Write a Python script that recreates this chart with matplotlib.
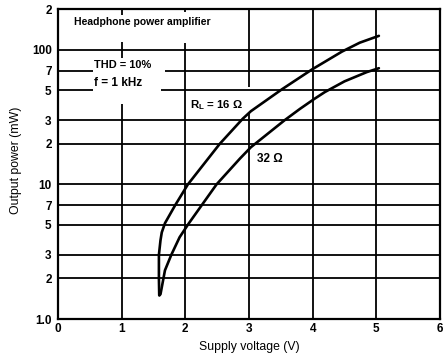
import matplotlib
matplotlib.use("Agg")
import matplotlib.pyplot as plt
from matplotlib.ticker import NullLocator

plt.rcParams["font.family"] = ["Liberation Sans", "DejaVu Sans"]
plt.rcParams["font.weight"] = "bold"
plt.rcParams["mathtext.fontset"] = "custom"
plt.rcParams["mathtext.rm"] = "Liberation Sans:bold"
plt.rcParams["mathtext.bf"] = "Liberation Sans:bold"
plt.rcParams["mathtext.it"] = "Liberation Sans:bold"

# Headphone amplifier output power vs. supply voltage (THD = 10 %, f = 1 kHz)
voltage_16 = [1.59, 1.585, 1.585, 1.61, 1.63, 1.68, 1.84, 2.04, 2.54, 2.90,
              3.03, 3.52, 3.99, 4.46, 4.74, 5.04]
power_16 = [1.5, 2.0, 3.0, 3.85, 4.4, 5.15, 7.0, 10.0, 20.0, 30.7,
            35.0, 51.0, 71.5, 97.0, 113.0, 127.0]

voltage_32 = [1.595, 1.61, 1.68, 1.78, 1.91, 2.05, 2.49, 2.86, 3.03,
              3.56, 3.80, 4.03, 4.19, 4.50, 4.85, 5.04]
power_32 = [1.5, 1.53, 2.3, 3.0, 4.05, 5.1, 10.0, 15.6, 18.9,
            30.0, 36.4, 43.3, 48.5, 58.3, 68.3, 73.0]

x_ticks = [0, 1, 2, 3, 4, 5, 6]
x_tick_labels = ["0", "1", "2", "3", "4", "5", "6"]
y_ticks = [1, 2, 3, 5, 7, 10, 20, 30, 50, 70, 100, 200]
y_tick_labels = ["1.0", "2", "3", "5", "7", "10", "2", "3", "5", "7", "100", "2"]

fig = plt.figure(figsize=(4.46, 3.61), dpi=100)
ax = fig.add_axes([58 / 446, 42 / 361, 382 / 446, 309.7 / 361])
ax.set_yscale("log")
ax.set_xlim(0, 6)
ax.set_ylim(1, 200)

grid_kw = dict(color="black", lw=1.3, zorder=1)

# horizontal grid; 50 and 70 mW lines are broken by the condition labels
for p in [2, 3, 5, 7, 10, 20, 30, 100]:
    ax.axhline(p, **grid_kw)
ax.hlines(70, 0, 0.55, **grid_kw)
ax.hlines(70, 1.68, 6, **grid_kw)
ax.hlines(50, 0, 0.55, **grid_kw)
ax.hlines(50, 1.62, 6, **grid_kw)

# vertical grid, left open around the annotation texts
ax.vlines(1, 1, 39.5, **grid_kw)
ax.vlines(1, 87, 114, **grid_kw)
ax.vlines(1, 181, 200, **grid_kw)
ax.vlines(2, 1, 112, **grid_kw)
ax.vlines(2, 191, 200, **grid_kw)
ax.vlines(3, 1, 34.5, **grid_kw)
ax.vlines(3, 52.9, 200, **grid_kw)
ax.vlines(4, 1, 200, **grid_kw)
ax.vlines(5, 1, 200, **grid_kw)

curve_kw = dict(color="black", lw=1.9, solid_capstyle="round",
                solid_joinstyle="round", zorder=3)
ax.plot(voltage_16, power_16, **curve_kw)
ax.plot(voltage_32, power_32, **curve_kw)

for s in ax.spines.values():
    s.set_linewidth(1.6)

ax.set_xticks(x_ticks)
ax.set_xticklabels(x_tick_labels)
ax.set_yticks(y_ticks)
ax.set_yticklabels(y_tick_labels)
ax.yaxis.set_minor_locator(NullLocator())
ax.tick_params(axis="both", length=0, labelsize=8.5)
ax.tick_params(axis="x", pad=3)
ax.tick_params(axis="y", pad=4.5)

ax.set_xlabel("Supply voltage (V)", fontsize=8.8)
ax.xaxis.set_label_coords(0.5, -0.072)
ax.set_ylabel("Output power (mW)", fontsize=8.8)
ax.yaxis.set_label_coords(-0.094, 0.513)

txt_kw = dict(va="center", ha="left", zorder=4)
ax.text(0.25, 161, "Headphone power amplifier", fontsize=7.5, **txt_kw)
ax.text(0.57, 77, "THD = 10%", fontsize=7.9, **txt_kw)
ax.text(0.57, 56.7, "f = 1 kHz", fontsize=8.5, **txt_kw)
ax.text(2.08, 38.9, r"R$_\mathregular{L}$ = 16 Ω", fontsize=8.2, **txt_kw)
ax.text(3.12, 15.4, "32 Ω", fontsize=8.5, **txt_kw)

fig.savefig("out.png", dpi=100)
